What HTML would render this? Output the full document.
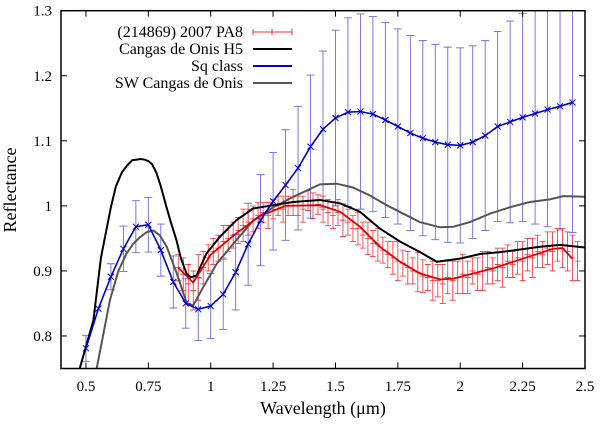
<!DOCTYPE html>
<html><head><meta charset="utf-8"><style>
html,body{margin:0;padding:0;background:#fff;}
svg{display:block;font-family:"Liberation Serif",serif;}
</style></head><body>
<svg id="chart" width="600" height="426" viewBox="0 0 600 426">
<defs><clipPath id="pc"><rect x="61" y="10.7" width="524" height="357.8"/></clipPath></defs>
<g id="grid"></g>
<g id="series" clip-path="url(#pc)"></g>
<rect x="61" y="10.7" width="524" height="357.8" fill="none" stroke="#000" stroke-width="1.5"/>
<g id="ticks"></g>
<text x="16" y="190" font-size="18" text-anchor="middle" transform="rotate(-90 16 190)">Reflectance</text>
<text x="323" y="414" font-size="18" text-anchor="middle">Wavelength (μm)</text>
<g id="legend"></g>
</svg>
<script>
const xTicks=[0.5,0.75,1,1.25,1.5,1.75,2,2.25,2.5];
const xTickLabels=["0.5","0.75","1","1.25","1.5","1.75","2","2.25","2.5"];
const yTicks=[0.8,0.9,1,1.1,1.2,1.3];
const yTickLabels=["0.8","0.9","1","1.1","1.2","1.3"];

const sqWl=[0.5,0.55,0.6,0.65,0.7,0.75,0.8,0.85,0.9,0.95,1.0,1.05,1.1,1.15,1.2,1.25,1.3,1.35,1.4,1.45,1.5,1.55,1.6,1.65,1.7,1.75,1.8,1.85,1.9,1.95,2.0,2.05,2.1,2.15,2.2,2.25,2.3,2.35,2.4,2.45];
const sqVal=[0.781,0.842,0.891,0.934,0.968,0.971,0.932,0.883,0.850,0.841,0.846,0.864,0.898,0.941,0.978,1.007,1.032,1.058,1.091,1.118,1.135,1.144,1.145,1.141,1.132,1.122,1.112,1.104,1.098,1.094,1.093,1.098,1.108,1.122,1.129,1.136,1.142,1.148,1.153,1.159];
const sqErr=[0.02,0,0.02,0.035,0.04,0.042,0.04,0.04,0.038,0.048,0.05,0.054,0.058,0.063,0.07,0.075,0.085,0.095,0.11,0.12,0.135,0.145,0.15,0.15,0.15,0.15,0.15,0.15,0.15,0.15,0.15,0.148,0.146,0.146,0.155,0.16,0.17,0.18,0.19,0.2];

const h5Wl=[0.475,0.53,0.56,0.6,0.62,0.645,0.665,0.685,0.70,0.72,0.735,0.75,0.765,0.783,0.80,0.823,0.84,0.863,0.88,0.903,0.92,0.943,0.963,0.983,1.036,1.103,1.17,1.25,1.33,1.438,1.518,1.598,1.678,1.759,1.839,1.906,1.999,2.079,2.16,2.24,2.32,2.4,2.5];
const h5Val=[0.75,0.824,0.92,0.998,1.03,1.052,1.062,1.070,1.071,1.072,1.071,1.069,1.064,1.05,1.03,0.998,0.975,0.947,0.92,0.896,0.89,0.893,0.91,0.927,0.952,0.978,0.996,1.001,1.006,1.009,1.004,0.991,0.965,0.945,0.929,0.914,0.919,0.926,0.929,0.933,0.937,0.94,0.936];

const swWl=[0.543,0.596,0.63,0.663,0.69,0.717,0.745,0.77,0.795,0.824,0.864,0.904,0.93,0.97,1.024,1.091,1.171,1.251,1.331,1.438,1.505,1.571,1.638,1.705,1.772,1.838,1.918,1.972,2.039,2.119,2.199,2.279,2.359,2.413,2.5];
const swVal=[0.75,0.855,0.9,0.927,0.942,0.952,0.96,0.962,0.955,0.937,0.896,0.850,0.847,0.875,0.911,0.942,0.978,0.998,1.014,1.033,1.034,1.028,1.016,1.001,0.988,0.975,0.967,0.968,0.975,0.988,0.998,1.006,1.010,1.015,1.014];

const paWl=[0.87,0.89,0.91,0.93,0.95,0.97,0.99,1.01,1.03,1.05,1.07,1.09,1.11,1.13,1.15,1.17,1.19,1.21,1.23,1.25,1.27,1.29,1.31,1.33,1.35,1.37,1.39,1.41,1.43,1.45,1.47,1.49,1.51,1.53,1.55,1.57,1.59,1.61,1.63,1.65,1.67,1.69,1.71,1.73,1.75,1.77,1.79,1.81,1.83,1.85,1.87,1.89,1.91,1.93,1.95,1.97,1.99,2.01,2.03,2.05,2.07,2.09,2.11,2.13,2.15,2.17,2.19,2.21,2.23,2.25,2.27,2.29,2.31,2.33,2.35,2.37,2.39,2.41,2.43,2.45,2.47];
const paVal=[0.905,0.895,0.88,0.87,0.89,0.905,0.92,0.93,0.935,0.945,0.95,0.955,0.962,0.97,0.975,0.98,0.985,0.99,0.985,0.995,1.0,0.995,1.0,1.005,1.0,0.995,1.008,1.0,1.002,0.995,0.99,0.985,0.99,0.978,0.975,0.965,0.965,0.955,0.95,0.942,0.94,0.932,0.925,0.92,0.915,0.912,0.905,0.9,0.898,0.892,0.89,0.885,0.885,0.88,0.89,0.885,0.89,0.895,0.89,0.9,0.895,0.9,0.905,0.9,0.91,0.905,0.915,0.91,0.92,0.915,0.925,0.92,0.93,0.925,0.935,0.93,0.94,0.935,0.93,0.92,0.915];
const paErr=[0.02,0.025,0.03,0.03,0.035,0.025,0.02,0.02,0.02,0.025,0.02,0.02,0.02,0.025,0.02,0.02,0.02,0.015,0.02,0.015,0.015,0.02,0.015,0.02,0.015,0.02,0.015,0.02,0.015,0.02,0.02,0.02,0.02,0.025,0.02,0.02,0.025,0.02,0.025,0.02,0.025,0.02,0.02,0.025,0.03,0.02,0.025,0.02,0.03,0.025,0.02,0.03,0.025,0.03,0.025,0.03,0.025,0.03,0.025,0.02,0.025,0.03,0.025,0.02,0.025,0.03,0.025,0.02,0.025,0.03,0.025,0.03,0.025,0.02,0.025,0.03,0.025,0.03,0.03,0.035,0.03];

const fitWl=[0.87,0.93,1.0,1.1,1.2,1.3,1.438,1.518,1.598,1.678,1.759,1.839,1.919,1.972,2.052,2.132,2.212,2.292,2.373,2.41,2.45];
const fitVal=[0.905,0.882,0.925,0.957,0.985,1.0,1.001,0.991,0.968,0.937,0.914,0.896,0.887,0.888,0.896,0.904,0.914,0.924,0.934,0.935,0.919];

const X0=61,X1=585,Y0=368.5,Y1=10.7,WMIN=0.4,WMAX=2.5,VMIN=0.75,VMAX=1.3;
const sx=w=>X0+(w-WMIN)/(WMAX-WMIN)*(X1-X0);
const sy=v=>Y0-(v-VMIN)/(VMAX-VMIN)*(Y0-Y1);
const NS="http://www.w3.org/2000/svg";
function mk(tag,attrs,parent){const e=document.createElementNS(NS,tag);for(const k in attrs)e.setAttribute(k,attrs[k]);parent.appendChild(e);return e;}
const ticks=document.getElementById('ticks'),series=document.getElementById('series'),legend=document.getElementById('legend');

xTicks.forEach((t,i)=>{
  const x=sx(t);
  const a=mk('line',{x1:x,x2:x,y1:Y0,y2:Y0-6,stroke:'#000','stroke-width':1},ticks);
  
  
  const b=mk('line',{x1:x,x2:x,y1:Y1,y2:Y1+6,stroke:'#000','stroke-width':1},ticks);
  
  
  const l=mk('text',{x:x,y:391,'font-size':15,'text-anchor':'middle'},ticks);
  l.textContent=xTickLabels[i];
  
  
});
yTicks.forEach((t,i)=>{
  const y=sy(t);
  const a=mk('line',{x1:X0,x2:X0+6,y1:y,y2:y,stroke:'#000','stroke-width':1},ticks);
  
  
  const b=mk('line',{x1:X1,x2:X1-6,y1:y,y2:y,stroke:'#000','stroke-width':1},ticks);
  
  
  const l=mk('text',{x:52,y:y+5,'font-size':15,'text-anchor':'end'},ticks);
  l.textContent=yTickLabels[i];
  
  
});

function pts(ws,vs){return ws.map((w,i)=>sx(w).toFixed(1)+','+sy(vs[i]).toFixed(1)).join(' ');}

const sqBars=mk('g',{stroke:'#6a6ae0','stroke-width':0.9},series);


sqWl.forEach((w,i)=>{
  if(!sqErr[i])return;
  const x=sx(w),yt=sy(sqVal[i]+sqErr[i]),yb=sy(sqVal[i]-sqErr[i]);
  const e=mk('path',{d:`M${x},${yt}V${yb}M${x-4},${yt}H${x+4}M${x-4},${yb}H${x+4}`,fill:'none'},sqBars);
  
  
});

const paG=mk('g',{stroke:'#f03030','stroke-width':0.8},series);


paWl.forEach((w,i)=>{
  const x=sx(w),y=sy(paVal[i]),yt=sy(paVal[i]+paErr[i]),yb=sy(paVal[i]-paErr[i]);
  const e=mk('path',{d:`M${x},${yt}V${yb}M${x-3},${yt}H${x+3}M${x-3},${yb}H${x+3}M${x-3},${y}H${x+3}`,fill:'none'},paG);
  
  
});

const sw=mk('polyline',{points:pts(swWl,swVal),fill:'none',stroke:'#555','stroke-width':2},series);


const h5=mk('polyline',{points:pts(h5Wl,h5Val),fill:'none',stroke:'#000','stroke-width':2},series);


const fit=mk('polyline',{points:pts(fitWl,fitVal),fill:'none',stroke:'#e00000','stroke-width':1.8},series);


const sq=mk('polyline',{points:pts(sqWl,sqVal),fill:'none',stroke:'#0000d0','stroke-width':1.6},series);


sqWl.forEach((w,i)=>{
  const x=sx(w),y=sy(sqVal[i]);
  const m=mk('path',{d:`M${x-3},${y-3}L${x+3},${y+3}M${x-3},${y+3}L${x+3},${y-3}`,stroke:'#0000d0','stroke-width':1,fill:'none'},series);
  
  
});

const legItems=[["(214869) 2007 PA8","#f03030",1],["Cangas de Onis H5","#000",2],["Sq class","#0000d0",2],["SW Cangas de Onis","#555",2]];
legItems.forEach((it,i)=>{
  const y=32+i*17;
  const t=mk('text',{x:243,y:y+5,'font-size':16,'text-anchor':'end'},legend);
  t.textContent=it[0];
  
  
  const l=mk('line',{x1:253,x2:292,y1:y,y2:y,stroke:it[1],'stroke-width':it[2]},legend);
  
  
  if(i===0){
    const c=mk('path',{d:`M253,${y-3}V${y+3}M292,${y-3}V${y+3}M272,${y-3}V${y+3}`,stroke:it[1],'stroke-width':1},legend);
    
    
  }
});
</script>
</body></html>
